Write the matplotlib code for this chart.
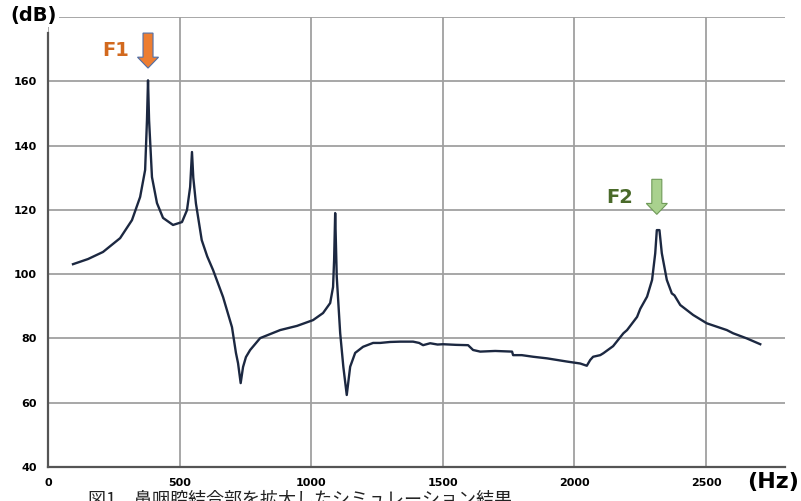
import matplotlib.pyplot as plt
import numpy as np

# values
freq = [95, 152, 209, 274, 319, 350, 369, 376, 380, 384, 395, 414, 437, 475,
        509, 528, 540, 547, 552, 562, 584, 605, 627, 665, 699, 714, 722, 732,
        741, 752, 768, 806, 882, 946, 1007, 1045, 1072, 1083, 1087, 1091, 1097,
        1110, 1122, 1135, 1148, 1167, 1197, 1235, 1262, 1300, 1338, 1387, 1410,
        1425, 1452, 1480, 1501, 1550, 1596, 1615, 1642, 1699, 1763, 1767,
        1800, 1843, 1896, 1972, 2022, 2047, 2060, 2071, 2098, 2110, 2147, 2186,
        2200, 2238, 2250, 2276, 2295, 2307, 2313, 2323, 2332, 2351, 2370, 2380,
        2402, 2451, 2503, 2579, 2603, 2655, 2706]
db = [103.1, 104.7, 106.9, 111.2, 116.8, 124.0, 132.4, 147.9, 160.3, 147.9,
      130.2, 122.1, 117.5, 115.3, 116.2, 119.9, 127.1, 138.0, 130.0, 122.0,
      110.6, 105.5, 101.3, 92.9, 83.5, 75.5, 72.3, 66.1, 71.1, 74.2, 76.4,
      80.1, 82.6, 83.9, 85.7, 87.9, 91.0, 96.0, 104.4, 119.0, 99.2, 81.7, 71.2,
      62.4, 71.2, 75.5, 77.4, 78.6, 78.6, 78.9, 79.0, 79.0, 78.6, 77.9, 78.5,
      78.1, 78.2, 78.0, 77.9, 76.4, 75.9, 76.1, 75.9, 74.8, 74.8, 74.3, 73.8,
      72.8, 72.2, 71.5, 73.3, 74.3, 74.8, 75.4, 77.6, 81.6, 82.6, 86.7, 89.2,
      93.0, 98.2, 106.5, 113.7, 113.7, 106.5, 98.2, 94.0, 93.4, 90.4, 87.3,
      84.7, 82.6, 81.6, 80.0, 78.2]

xticks = [0, 500, 1000, 1500, 2000, 2500]
yticks = [40, 60, 80, 100, 120, 140, 160]
caption = "図1　鼻咽腔結合部を拡大したシミュレーション結果"
narrow = ["Liberation Sans Narrow", "DejaVu Sans"]

fig = plt.figure(figsize=(8.01, 5.01), dpi=100)
ax = fig.add_axes([48 / 801, 34 / 501, 737 / 801, 450 / 501])

ax.plot(freq, db, color="#1c2841", linewidth=1.7)

ax.set_xlim(0, 2800)
ax.set_ylim(40, 180)
ax.set_xticks(xticks)
ax.set_yticks(yticks + [180])
ax.set_yticklabels([str(v) for v in yticks] + [""])
ax.grid(True, color="#a0a0a0", linewidth=1.3)
ax.set_axisbelow(True)
for s in ["top", "right"]:
    ax.spines[s].set_visible(False)
ax.spines["left"].set_bounds(40, 175)
for s in ["left", "bottom"]:
    ax.spines[s].set_color("#555555")
    ax.spines[s].set_linewidth(1.6)
ax.tick_params(length=0, labelsize=8, pad=8)
for lab in ax.get_xticklabels() + ax.get_yticklabels():
    lab.set_fontweight("bold")
    lab.set_family(narrow)

fig.text(10 / 801, 1 - 15 / 501, "(dB)", fontsize=14, fontweight="bold",
         va="center", ha="left",
         bbox=dict(fc="white", ec="none", pad=2))
fig.text(799 / 801, 1 - 482 / 501, "(Hz)", fontsize=16, fontweight="bold",
         va="center", ha="right", family=narrow)
fig.text(88 / 801, 1 - 491 / 501, caption, fontsize=13, va="top", ha="left",
         family=["Noto Sans CJK JP", "DejaVu Sans"], color="#222222")

# peak markers
f = np.array(freq)
d = np.array(db)
x1 = f[np.argmax(d)]
hi = f > 2000
x2 = f[hi][np.argmax(d[hi])]

ax.arrow(x1, 175, 0, -7.5, width=38, head_width=80, head_length=3.4,
         length_includes_head=False, fc="#ED7D31", ec="#4f6fa8", lw=0.8)
ax.text(x1 - 70, 169.7, "F1", color="#D2691E", fontsize=14,
        fontweight="bold", ha="right", va="center")
ax.arrow(x2, 129.5, 0, -7.5, width=38, head_width=80, head_length=3.4,
         length_includes_head=False, fc="#A9D18E", ec="#6f9a58", lw=0.8)
ax.text(x2 - 90, 123.7, "F2", color="#4a6a2a", fontsize=14,
        fontweight="bold", ha="right", va="center")

fig.savefig("out.png", dpi=100)
